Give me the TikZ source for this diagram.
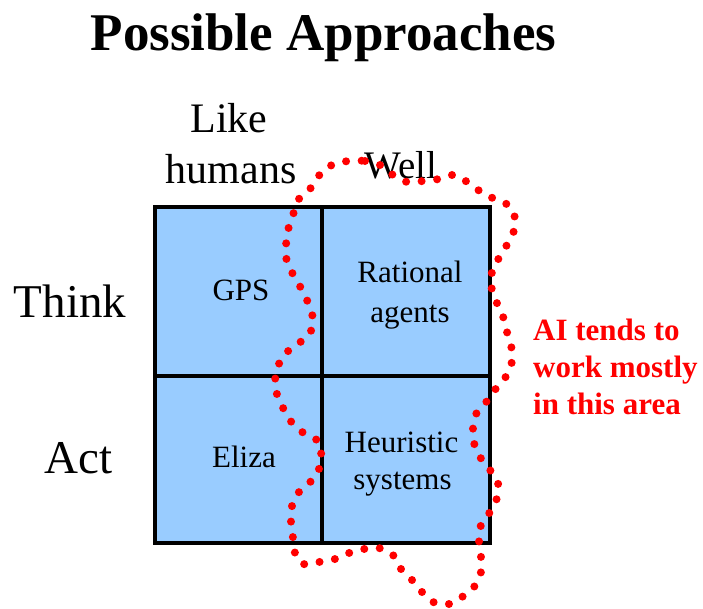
\documentclass[tikz,border=0pt]{standalone}
\usepackage{fontspec}
\setmainfont{Liberation Serif}
\definecolor{cellblue}{HTML}{99CCFF}
\definecolor{areared}{HTML}{FF0000}
\begin{document}
\begin{tikzpicture}[x=1pt,y=-1pt,
  lbl/.style={inner sep=0pt,anchor=base},
  celltext/.style={lbl,font=\fontsize{31}{31}\selectfont},
  axistext/.style={lbl,font=\fontsize{42}{42}\selectfont},
  sidetext/.style={lbl,font=\fontsize{47}{47}\selectfont},
  notetext/.style={inner sep=0pt,anchor=base west,text=areared,
    font=\fontsize{31}{31}\selectfont\bfseries},
  gridline/.style={line width=3.6pt,line cap=rect},
  areadots/.style={draw=areared,line width=8pt,line cap=round,
    dash pattern=on 0pt off 15.6pt}]
\useasboundingbox (0,0) rectangle (703,608);

% title
\node[lbl,font=\fontsize{53}{53}\selectfont\bfseries] (title) at (323.5,50) {Possible Approaches};

% column and row headings
\node[axistext] (like) at (229,132) {Like};
\node[axistext] (humans) at (231,183) {humans};
\node[lbl,font=\fontsize{39}{39}\selectfont] (well) at (401,178) {Well};
\node[sidetext] (think) at (70,317) {Think};
\node[sidetext] (act) at (78.5,473) {Act};

% the 2x2 grid
\fill[cellblue] (155,207) rectangle (490,543);
\draw[gridline] (155,207) rectangle (490,543);
\draw[gridline] (322,207) -- (322,543);
\draw[gridline] (155,376) -- (490,376);

% cell entries
\node[celltext] (gps) at (241,300) {GPS};
\node[celltext] (rational) at (410,282) {Rational};
\node[celltext] (agents) at (410,322) {agents};
\node[celltext] (eliza) at (244,467) {Eliza};
\node[celltext] (heuristic) at (401.5,452) {Heuristic};
\node[celltext] (systems) at (402.5,489) {systems};

% dotted outline of the region
\draw[areadots] plot[smooth cycle,tension=0.55] coordinates {
  (349,161) (365,161) (380,165) (393,175) (407,182) (423,181) (439,179)
  (455,175) (474,187) (487,196) (502,201) (513,211) (515,227) (509,241)
  (501,255) (493,268) (491,284) (495,299) (502,313) (506,329) (511,345)
  (512,361) (507,375) (497,387) (488,400) (477,412) (473,428) (474,443)
  (480,457) (490,470) (498,483) (497,498) (490,512) (481,525) (479,541)
  (481,557) (481,572) (474,587) (462,597) (449,604) (433,602) (422,592)
  (412,580) (401,569) (393,555) (379,548) (364,549) (349,553) (335,559)
  (319,562) (303,564) (295,553) (293,538) (291,522) (292,506) (299,492)
  (306,486) (317,474) (321,458) (319,442) (305,434) (293,424) (286,413)
  (279,400) (275,385) (277,369) (284,355) (296,345) (309,335) (313,320)
  (309,305) (302,290) (294,276) (287,262) (286,246) (288,230) (293,215)
  (298,200) (310,189) (321,173) (334,164)};

% note
\node[notetext] (note1) at (533,340) {AI tends to};
\node[notetext] (note2) at (533,377) {work mostly};
\node[notetext] (note3) at (533,414) {in this area};
\end{tikzpicture}
\end{document}
